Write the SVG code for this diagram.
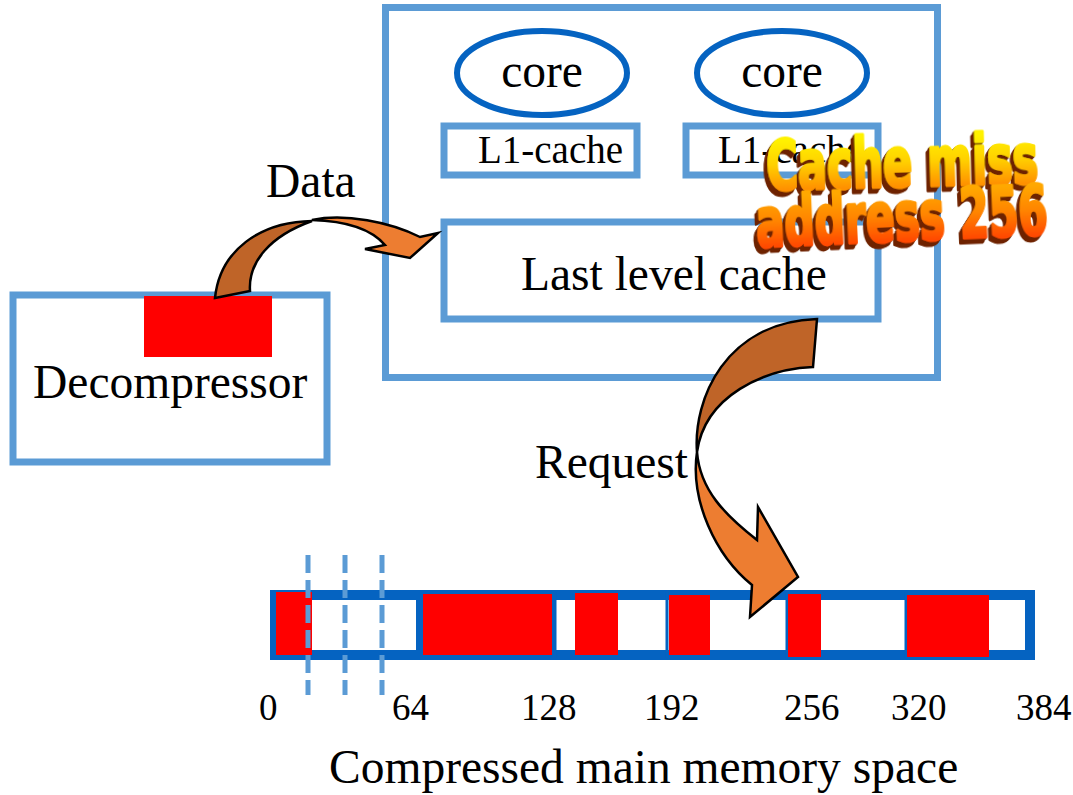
<svg xmlns="http://www.w3.org/2000/svg" width="1073" height="795" viewBox="0 0 1073 795">
  <defs>
    <style>
      .frame { fill: none; stroke: #5b9bd5; stroke-width: 7; }
      .core { fill: #ffffff; stroke: #0563c1; stroke-width: 6; }
      .block { fill: #ff0000; }
      .bar { fill: #ffffff; stroke: #0563c1; stroke-width: 10; }
      .divider { stroke: #0563c1; }
      .guide { stroke: #5b9bd5; stroke-width: 5; stroke-dasharray: 18 7; }
      .lbl { font-family: "Liberation Serif", "Times New Roman", serif; fill: #000000; font-size: 47.5px; }
      .small { font-size: 39px; }
      .tick { font-size: 37px; }
      .back { fill: #bf6428; stroke: #000000; stroke-width: 2.5; stroke-linejoin: miter; }
      .front { fill: #ed7d31; stroke: #000000; stroke-width: 2.5; stroke-linejoin: miter; }
      .art { font-family: "Liberation Sans Narrow", "DejaVu Sans Condensed", "Liberation Sans", sans-serif; font-weight: bold; font-stretch: condensed; fill: url(#artFill); stroke: url(#artFill); stroke-width: 2.5; stroke-linejoin: round; filter: url(#extrude); }
    </style>
    <linearGradient id="artFill" gradientUnits="userSpaceOnUse" x1="0" y1="-40" x2="0" y2="0">
      <stop offset="0" stop-color="#fff200"/>
      <stop offset="0.5" stop-color="#ffd000"/>
      <stop offset="1" stop-color="#ff9000"/>
    </linearGradient>
    <linearGradient id="artFill2" gradientUnits="userSpaceOnUse" x1="0" y1="-40" x2="0" y2="0">
      <stop offset="0" stop-color="#ffa800"/>
      <stop offset="0.5" stop-color="#ff8400"/>
      <stop offset="1" stop-color="#ff4a00"/>
    </linearGradient>
    <filter id="extrude" x="-10%" y="-20%" width="120%" height="160%">
      <feOffset in="SourceAlpha" dx="-1" dy="1" result="o1"/>
      <feOffset in="SourceAlpha" dx="-2" dy="2" result="o2"/>
      <feOffset in="SourceAlpha" dx="-3" dy="3" result="o3"/>
      <feOffset in="SourceAlpha" dx="-4" dy="4" result="o4"/>
      <feMerge result="stack">
        <feMergeNode in="o1"/>
        <feMergeNode in="o2"/>
        <feMergeNode in="o3"/>
        <feMergeNode in="o4"/>
      </feMerge>
      <feFlood flood-color="#6e2400"/>
      <feComposite operator="in" in2="stack" result="shade"/>
      <feMerge>
        <feMergeNode in="shade"/>
        <feMergeNode in="SourceGraphic"/>
      </feMerge>
    </filter>
  </defs>

  <rect width="1073" height="795" fill="#ffffff"/>

  <!-- processor chip -->
  <g id="cpu">
    <rect class="frame" x="385.5" y="7.5" width="552" height="370"/>
  </g>
  <g id="core-0">
    <ellipse class="core" cx="542" cy="73" rx="85" ry="42"/>
    <text class="lbl" x="542" y="87" text-anchor="middle">core</text>
  </g>
  <g id="core-1">
    <ellipse class="core" cx="782" cy="73" rx="85" ry="42"/>
    <text class="lbl" x="782" y="87" text-anchor="middle">core</text>
  </g>
  <g id="l1-0">
    <rect class="frame" x="444" y="126" width="193" height="49"/>
    <text class="lbl small" x="478" y="163">L1-cache</text>
  </g>
  <g id="l1-1">
    <rect class="frame" x="686" y="126" width="192" height="49"/>
    <text class="lbl small" x="718" y="163">L1-cache</text>
  </g>
  <g id="llc">
    <rect class="frame" x="444" y="222" width="434" height="97"/>
    <text class="lbl" x="521" y="290">Last level cache</text>
  </g>

  <!-- decompressor unit -->
  <g id="decompressor">
    <rect class="frame" x="13" y="295" width="314" height="167"/>
    <rect class="block" x="144" y="296" width="128" height="61"/>
    <text class="lbl" x="33" y="398">Decompressor</text>
  </g>

  <!-- compressed memory strip -->
  <g id="memory">
    <rect class="bar" x="275" y="595" width="755" height="60"/>
    <line class="divider" x1="420" y1="592" x2="420" y2="658" stroke-width="8"/>
    <line class="divider" x1="554" y1="592" x2="554" y2="658" stroke-width="5"/>
    <line class="divider" x1="667" y1="592" x2="667" y2="658" stroke-width="3"/>
    <line class="divider" x1="787" y1="592" x2="787" y2="658" stroke-width="3"/>
    <line class="divider" x1="906" y1="592" x2="906" y2="658" stroke-width="3"/>
    <rect class="block" x="276" y="592" width="36" height="63"/>
    <rect class="block" x="423" y="594" width="129" height="61"/>
    <rect class="block" x="575" y="593" width="43" height="62"/>
    <rect class="block" x="669" y="595" width="41" height="60"/>
    <rect class="block" x="788" y="594" width="33" height="63"/>
    <rect class="block" x="907" y="595" width="82" height="62"/>
    <line class="guide" x1="308" y1="555" x2="308" y2="695"/>
    <line class="guide" x1="345" y1="555" x2="345" y2="695"/>
    <line class="guide" x1="382" y1="555" x2="382" y2="695"/>
  </g>
  <g id="memory-axis">
    <text class="lbl tick" x="259" y="720">0</text>
    <text class="lbl tick" x="392" y="720">64</text>
    <text class="lbl tick" x="521" y="720">128</text>
    <text class="lbl tick" x="644" y="720">192</text>
    <text class="lbl tick" x="784" y="720">256</text>
    <text class="lbl tick" x="891" y="720">320</text>
    <text class="lbl tick" x="1016" y="720">384</text>
    <text class="lbl" x="329" y="783">Compressed main memory space</text>
  </g>

  <!-- curved block arrows -->
  <g id="connectors">
    <g id="data-arrow">
      <path class="back" d="M215,298 L250,291 C248,262 270,236 312,221 C260,222 220,250 215,298 Z"/>
      <path class="front" d="M312,220 C345,213 390,222 420,237 L438,233 L410,258 L365,249 L385,245 C372,230 348,221 312,220 Z"/>
      <text class="lbl" x="266" y="197">Data</text>
    </g>
    <g id="request-arrow">
      <text class="lbl" x="535" y="478">Request</text>
      <path class="back" d="M817,319 L813,367 C765,369 705,395 697,452 C693,400 725,322 817,319 Z"/>
      <path class="front" d="M697,452 C690,500 715,555 752,585 L750,617 L798,577 L758,507 L757,540 C725,515 700,490 697,452 Z"/>
    </g>
  </g>

  <!-- miss notice, tall heavy lettering with a dark extrusion -->
  <g id="miss-note">
    <text class="art" x="0" y="0" font-size="56" textLength="272" lengthAdjust="spacingAndGlyphs" transform="translate(767 190) rotate(-1.5) scale(1 1.24)">Cache miss</text>
    <text class="art" x="0" y="0" font-size="56" textLength="292" lengthAdjust="spacingAndGlyphs" style="fill:url(#artFill2);stroke:url(#artFill2)" transform="translate(757 247) rotate(-2.5) scale(1 1.24)">address 256</text>
  </g>
</svg>
